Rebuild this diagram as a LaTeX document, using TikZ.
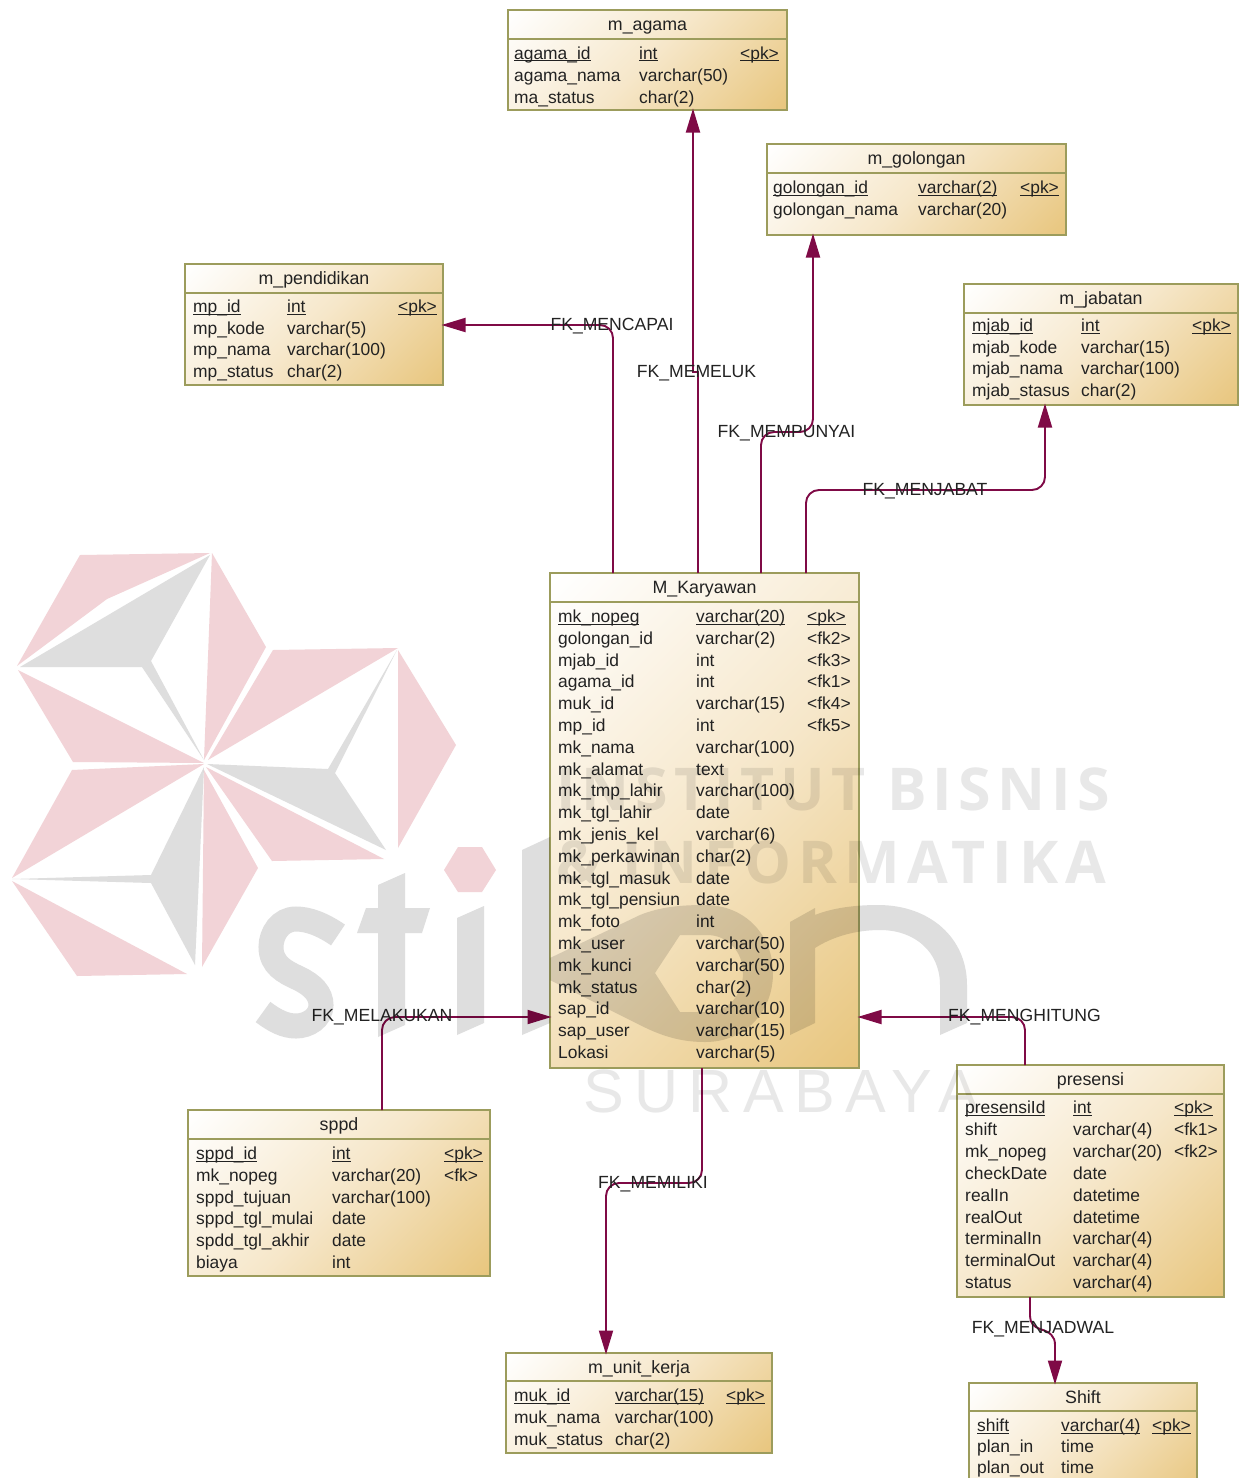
\documentclass[tikz,border=0pt]{standalone}
\usepackage{fontspec}
\setmainfont{Liberation Sans}
\newfontfamily\wmbold{Open Sans}[LetterSpace=10.4]
\newfontfamily\wmboldb{Open Sans}[LetterSpace=12.2]
\newfontfamily\wmreg{Liberation Sans}[LetterSpace=17]
\usetikzlibrary{arrows.meta,calc}
\definecolor{fkcol}{HTML}{7F0A46}
\definecolor{tbledge}{HTML}{9C9C5C}
\definecolor{inkc}{HTML}{222222}
\definecolor{wmpink}{HTML}{F2D3D7}
\definecolor{wmgrey}{HTML}{DEDEDE}
\definecolor{wmlight}{HTML}{E8E8E8}
\pgfdeclarehorizontalshading{dbgrad}{100bp}{rgb(0bp)=(1,1,1); rgb(15bp)=(1,1,1); rgb(50bp)=(.965,.906,.792); rgb(85bp)=(.91,.776,.494); rgb(100bp)=(.91,.776,.494)}
\tikzset{
  dbtbl/.style={rectangle,draw=tbledge,line width=1.8pt,inner sep=0pt,outer sep=0pt,anchor=north west,
     shading=dbgrad,shading angle=-45},
  dbdiv/.style={draw=tbledge,line width=1.8pt},
  dbcell/.style={anchor=base west,inner sep=0pt,text=inkc,font=\fontsize{17.4}{20}\selectfont},
  dbhead/.style={anchor=base,inner sep=0pt,text=inkc,font=\fontsize{17.8}{20}\selectfont},
  fklabel/.style={inner sep=0pt,text=inkc,font=\fontsize{17.6}{20}\selectfont},
  fkline/.style={draw=fkcol,line width=1.9pt,rounded corners=13pt},
  fkarrow/.style={fkline,shorten >=-1.5pt,-{Triangle[length=24pt,width=14pt]}},
  wmpoly/.style={fill=wmpink,draw=none},
  wmgpoly/.style={fill=wmgrey,draw=none},
  wmtext/.style={inner sep=0pt,text=wmlight}
}
\newsavebox\ulbox
\newcommand{\ulx}[1]{\sbox\ulbox{#1}\usebox\ulbox\llap{\rule[-2.4pt]{\wd\ulbox}{1.3pt}}}
% name, left, top, right, bottom, divider y, title
\newcommand{\dbtable}[7]{%
  \node[dbtbl,minimum width={(#4-#2)*1pt},minimum height={(#5-#3)*1pt}] (#1) at (#2,#3) {};
  \draw[dbdiv] (#1.west |- 0,#6) -- (#1.east |- 0,#6);
  \node[dbhead] (#1-title) at ({(#2+#4)/2},{#3+20}) {#7};
}
% prefix, x1, x2, x3, first baseline, step, rows
\newcommand{\dbrows}[7]{%
  \foreach \ca/\cb/\cc [count=\ri from 0] in {#7} {
    \ifnum\ri=0
      \node[dbcell] (#1-r\ri-a) at (#2,{#5+\ri*#6}) {\ulx{\ca}};
      \node[dbcell] (#1-r\ri-b) at (#3,{#5+\ri*#6}) {\ulx{\cb}};
      \node[dbcell] (#1-r\ri-c) at (#4,{#5+\ri*#6}) {\ulx{\cc}};
    \else
      \node[dbcell] (#1-r\ri-a) at (#2,{#5+\ri*#6}) {\ca};
      \node[dbcell] (#1-r\ri-b) at (#3,{#5+\ri*#6}) {\cb};
      \node[dbcell] (#1-r\ri-c) at (#4,{#5+\ri*#6}) {\cc};
    \fi
  }
}
\begin{document}
\begin{tikzpicture}[x=1pt,y=-1pt]
\useasboundingbox (0,0) rectangle (1245,1478);
\fill[white] (0,0) rectangle (1245,1478);
\begin{scope}
\clip (0,0) rectangle (1245,1478);

% tables
\dbtable{agama}{508}{10}{787}{110}{39}{m\_agama}
\dbrows{agama}{514}{639}{740}{59}{22}{agama\_id/int/{<pk>},agama\_nama/varchar(50)/{},ma\_status/char(2)/{}}

\dbtable{gol}{767}{144}{1066}{235}{173}{m\_golongan}
\dbrows{gol}{773}{918}{1020}{193.5}{21.5}{golongan\_id/varchar(2)/{<pk>},golongan\_nama/varchar(20)/{}}

\dbtable{pend}{185}{264}{443}{385}{293}{m\_pendidikan}
\dbrows{pend}{193}{287}{398}{312.5}{21.5}{mp\_id/int/{<pk>},mp\_kode/varchar(5)/{},mp\_nama/varchar(100)/{},mp\_status/char(2)/{}}

\dbtable{jab}{964}{284}{1238}{405}{313}{m\_jabatan}
\dbrows{jab}{972}{1081}{1192}{331.5}{21.7}{mjab\_id/int/{<pk>},mjab\_kode/varchar(15)/{},mjab\_nama/varchar(100)/{},mjab\_stasus/char(2)/{}}

\dbtable{kar}{550}{573}{859}{1068}{602}{M\_Karyawan}
\dbrows{kar}{558}{696}{807}{622.5}{21.8}{mk\_nopeg/varchar(20)/{<pk>},golongan\_id/varchar(2)/{<fk2>},mjab\_id/int/{<fk3>},agama\_id/int/{<fk1>},muk\_id/varchar(15)/{<fk4>},mp\_id/int/{<fk5>},mk\_nama/varchar(100)/{},mk\_alamat/text/{},mk\_tmp\_lahir/varchar(100)/{},mk\_tgl\_lahir/date/{},mk\_jenis\_kel/varchar(6)/{},mk\_perkawinan/char(2)/{},mk\_tgl\_masuk/date/{},mk\_tgl\_pensiun/date/{},mk\_foto/int/{},mk\_user/varchar(50)/{},mk\_kunci/varchar(50)/{},mk\_status/char(2)/{},sap\_id/varchar(10)/{},sap\_user/varchar(15)/{},Lokasi/varchar(5)/{}}

\dbtable{sppd}{188}{1110}{490}{1276}{1139}{sppd}
\dbrows{sppd}{196}{332}{444}{1159.5}{21.8}{sppd\_id/int/{<pk>},mk\_nopeg/varchar(20)/{<fk>},sppd\_tujuan/varchar(100)/{},sppd\_tgl\_mulai/date/{},spdd\_tgl\_akhir/date/{},biaya/int/{}}

\dbtable{pres}{957}{1065}{1224}{1297}{1094}{presensi}
\dbrows{pres}{965}{1073}{1174}{1113.5}{21.9}{presensiId/int/{<pk>},shift/varchar(4)/{<fk1>},mk\_nopeg/varchar(20)/{<fk2>},checkDate/date/{},realIn/datetime/{},realOut/datetime/{},terminalIn/varchar(4)/{},terminalOut/varchar(4)/{},status/varchar(4)/{}}

\dbtable{unit}{506}{1353}{772}{1453}{1381}{m\_unit\_kerja}
\dbrows{unit}{514}{615}{726}{1401.5}{22}{muk\_id/varchar(15)/{<pk>},muk\_nama/varchar(100)/{},muk\_status/char(2)/{}}

\dbtable{shiftt}{969}{1383}{1197}{1495}{1411}{Shift}
\dbrows{shiftt}{977}{1061}{1152}{1431.5}{21}{shift/varchar(4)/{<pk>},plan\_in/time/{},plan\_out/time/{}}

% connectors
\draw[fkarrow,rounded corners=0pt] (698,0 |- kar.north) -- (698,372) -- (693,372) -- (693,0 |- agama.south);
\draw[fkarrow] (613,0 |- kar.north) -- (613,325) -- (0,325 -| pend.east);
\draw[fkarrow] (761,0 |- kar.north) -- (761,432) -- (813,432) -- (813,0 |- gol.south);
\draw[fkarrow] (806,0 |- kar.north) -- (806,490) -- (1045,490) -- (1045,0 |- jab.south);
\draw[fkarrow] (382,0 |- sppd.north) -- (382,1017) -- (0,1017 -| kar.west);
\draw[fkarrow] (1025,0 |- pres.north) -- (1025,1017) -- (0,1017 -| kar.east);
\draw[fkarrow] (702,0 |- kar.south) -- (702,1183) -- (606,1183) -- (606,0 |- unit.north);
\draw[fkarrow,rounded corners=0pt] (1030,0 |- pres.south) -- (1030,1316) .. controls (1030,1323) and (1034,1327) .. (1040,1329) .. controls (1050,1332) and (1055,1336) .. (1055,1345) -- (1055,0 |- shiftt.north);

% connector labels
\node[fklabel] (lbl-mencapai) at (612,326.5) {FK\_MENCAPAI};
\node[fklabel] (lbl-memeluk) at (696.5,373.5) {FK\_MEMELUK};
\node[fklabel] (lbl-mempunyai) at (786.5,433.5) {FK\_MEMPUNYAI};
\node[fklabel] (lbl-menjabat) at (925,491.5) {FK\_MENJABAT};
\node[fklabel] (lbl-melakukan) at (382,1017) {FK\_MELAKUKAN};
\node[fklabel] (lbl-menghitung) at (1024.5,1017) {FK\_MENGHITUNG};
\node[fklabel] (lbl-memiliki) at (653,1184.5) {FK\_MEMILIKI};
\node[fklabel] (lbl-menjadwal) at (1043,1329.5) {FK\_MENJADWAL};

% watermark
\begin{scope}[blend mode=multiply]
  % logo
  \fill[wmpoly] (80,555) -- (210,553) -- (107,599) -- (17,666) -- cycle;
  \fill[wmpoly] (212,553) -- (266,647) -- (204,760) -- cycle;
  \fill[wmpoly] (18,670) -- (204,763) -- (73,762) -- cycle;
  \fill[wmpoly] (273,650) -- (398,648) -- (208,760) -- cycle;
  \fill[wmpoly] (398,650) -- (456,745) -- (398,848) -- cycle;
  \fill[wmpoly] (72,770) -- (204,764) -- (12,878) -- cycle;
  \fill[wmpoly] (206,767) -- (384,859) -- (272,861) -- cycle;
  \fill[wmpoly] (204,770) -- (258,868) -- (202,967) -- cycle;
  \fill[wmpoly] (12,881) -- (187,974) -- (77,976) -- cycle;
  \fill[wmgpoly] (20,667) -- (210,555) -- (151,661) -- (204,760) -- (142,667) -- cycle;
  \fill[wmgpoly] (207,764) -- (328,769) -- (397,650) -- (335,773) -- (386,850) -- cycle;
  \fill[wmgpoly] (12,879) -- (151,875) -- (204,767) -- (195,965) -- (151,883) -- cycle;
  % stikom wordmark
  \draw[draw=wmgrey,line width=25pt] (338,935) .. controls (322,924) and (308,919) .. (296,919)
     .. controls (280,919) and (271,934) .. (271,947) .. controls (271,965) and (285,972) .. (298,978)
     .. controls (313,985) and (321,994) .. (321,1005) .. controls (321,1018) and (308,1026) .. (296,1026)
     .. controls (285,1026) and (275,1021) .. (263,1012);
  \fill[wmgpoly] (378,885) -- (405,873) -- (405,908) -- (430,908) -- (422,933) -- (405,933) -- (405,1025) -- (378,1037) -- (378,933) -- (357,933) -- (366,908) -- (378,908) -- cycle;
  \fill[wmgpoly] (457,918) -- (484,906) -- (484,1023) -- (457,1035) -- cycle;
  \fill[wmpoly] (444,870) -- (458,847) -- (482,847) -- (496,870) -- (482,892) -- (458,892) -- cycle;
  \fill[wmgpoly,even odd rule] (522,850) -- (550,837) -- (550,958) -- (640,915) .. controls (660,907) and (680,905) .. (705,905)
     .. controls (745,905) and (773,935) .. (773,973) .. controls (773,1012) and (745,1042) .. (705,1042)
     .. controls (685,1042) and (665,1038) .. (640,1025) -- (550,980) -- (550,1023) -- (522,1035) -- cycle
     (655,973) -- (680,1012) -- (707,1012) .. controls (728,1012) and (743,995) .. (743,973)
     .. controls (743,952) and (728,935) .. (707,935) -- (680,935) -- cycle;
  \fill[wmgpoly] (790,922) -- (815,908) -- (815,915) .. controls (832,908) and (855,905) .. (878,905)
     .. controls (930,905) and (967,938) .. (967,985) -- (967,1023) -- (940,1035) -- (940,985)
     .. controls (940,952) and (915,930) .. (880,930) .. controls (855,930) and (832,937) .. (815,948)
     -- (815,1023) -- (790,1035) -- cycle;
  % text
  \node[wmtext,anchor=base west] (wm-inst) at (556,810) {\fontsize{59}{60}\wmbold\bfseries INSTITUT BISNIS};
  \node[wmtext,anchor=base west] (wm-info) at (556,883) {\fontsize{59}{60}\wmboldb\bfseries \& INFORMATIKA};
  \node[wmtext,anchor=base west] (wm-sby) at (583,1112) {\fontsize{61}{62}\wmreg SURABAYA};
\end{scope}
\end{scope}
\end{tikzpicture}
\end{document}
